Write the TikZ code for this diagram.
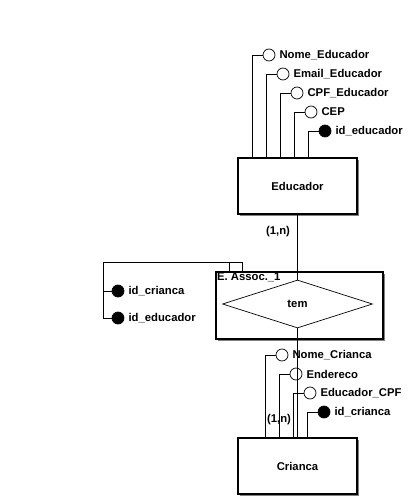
\documentclass[tikz,border=0pt]{standalone}
\usepackage{fontspec}
\setmainfont{Liberation Sans}
\usetikzlibrary{shapes,shadows}

\begin{document}
\begin{tikzpicture}[x=1pt,y=-1pt,
    every node/.style={font=\bfseries\fontsize{11.3}{13}\selectfont},
    entity/.style={draw,line width=1.2pt,fill=white,minimum width=119pt,minimum height=56pt,
        drop shadow={shadow xshift=1.5pt,shadow yshift=-1.5pt,fill=gray,opacity=1}},
    attr/.style={draw,circle,line width=0.7pt,fill=white,minimum size=12pt,inner sep=0pt},
    keyattr/.style={attr,fill=black},
    lbl/.style={anchor=west,inner sep=0pt,xshift=4pt}]
    \useasboundingbox (0,0) rectangle (415,500);

    \node [entity] (educador) at (297.5,186) {Educador};
    \node [entity] (crianca) at (297.5,466) {Crianca};
    \node [entity,minimum width=167pt,minimum height=67pt] (assoc) at (299.5,305.5) {};
    \node [anchor=north west,inner sep=1.5pt] (assoclbl) at (assoc.north west) {E. Assoc.\_1};
    \node [draw,diamond,line width=0.7pt,minimum width=150pt,minimum height=48pt,inner sep=0pt] (tem) at (297.5,304) {tem};

    \node [attr] (nomeed) at (269,55) {};
    \node [lbl] (nomeedl) at (nomeed.east) {Nome\_Educador};
    \node [attr] (emailed) at (283,74) {};
    \node [lbl] (emailedl) at (emailed.east) {Email\_Educador};
    \node [attr] (cpfed) at (297,93) {};
    \node [lbl] (cpfedl) at (cpfed.east) {CPF\_Educador};
    \node [attr] (cep) at (311,112) {};
    \node [lbl] (cepl) at (cep.east) {CEP};
    \node [keyattr] (ided) at (325,131) {};
    \node [lbl] (idedl) at (ided.east) {id\_educador};

    \draw [line width=0.7pt] (educador.north west) ++(15,0) |- (nomeed);
    \draw [line width=0.7pt] (educador.north west) ++(29,0) |- (emailed);
    \draw [line width=0.7pt] (educador.north west) ++(43,0) |- (cpfed);
    \draw [line width=0.7pt] (educador.north west) ++(57,0) |- (cep);
    \draw [line width=0.7pt] (educador.north west) ++(71,0) |- (ided);

    \node [keyattr] (idcrir) at (118,291) {};
    \node [lbl] (idcrirl) at (idcrir.east) {id\_crianca};
    \node [keyattr] (idedr) at (118,318) {};
    \node [lbl] (idedrl) at (idedr.east) {id\_educador};
    \coordinate (bend) at (103,262);
    \draw [line width=0.7pt] (assoc.north west) ++(14,0) |- (bend) |- (idcrir);
    \draw [line width=0.7pt] (assoc.north west) ++(27,0) |- (bend) |- (idedr);

    \node [attr] (nomecri) at (282,355) {};
    \node [lbl] (nomecril) at (nomecri.east) {Nome\_Crianca};
    \node [attr] (ender) at (296,374) {};
    \node [lbl] (enderl) at (ender.east) {Endereco};
    \node [attr] (edcpf) at (310,393) {};
    \node [lbl] (edcpfl) at (edcpf.east) {Educador\_CPF};
    \node [keyattr] (idcri) at (324,412) {};
    \node [lbl] (idcril) at (idcri.east) {id\_crianca};

    \draw [line width=0.7pt] (crianca.north west) ++(28,0) |- (nomecri);
    \draw [line width=0.7pt] (crianca.north west) ++(42,0) |- (ender);
    \draw [line width=0.7pt] (crianca.north west) ++(56,0) |- (edcpf);
    \draw [line width=0.7pt] (crianca.north west) ++(70,0) |- (idcri);

    \draw [line width=0.7pt] (educador.south) -- (tem.north);
    \draw [line width=0.7pt] (tem.south) -- (crianca.north);
    \node (card1) at (278,232) {(1,n)};
    \node (card2) at (279,420) {(1,n)};
\end{tikzpicture}
\end{document}
